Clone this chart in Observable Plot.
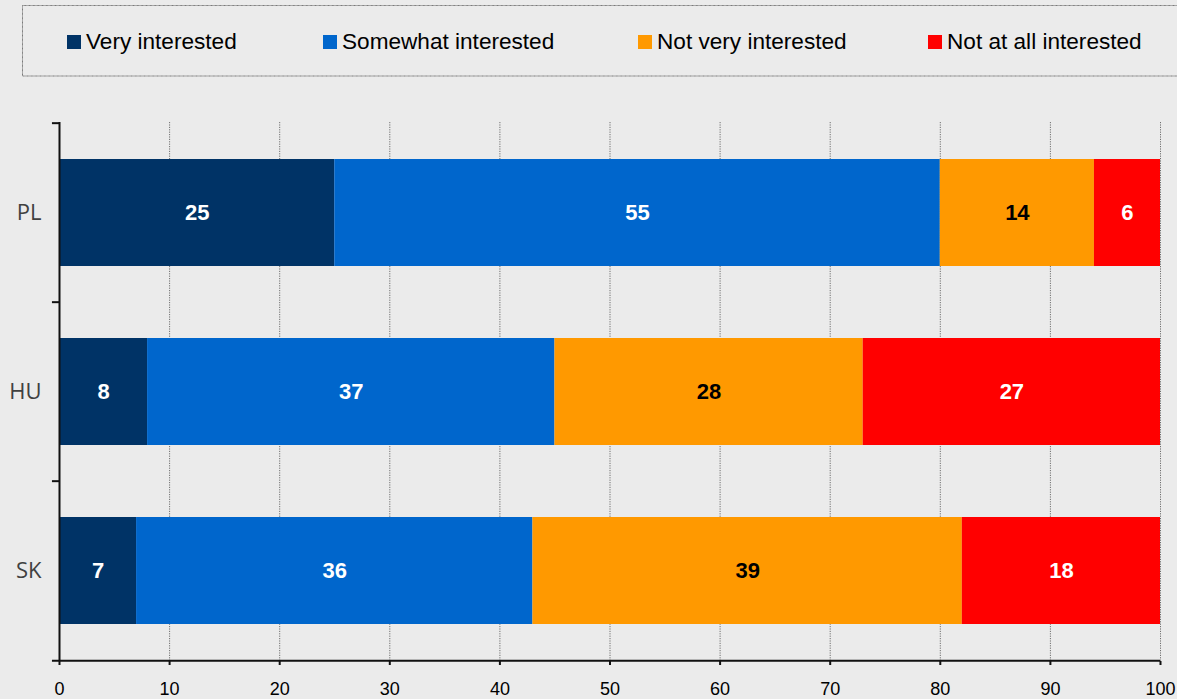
<!DOCTYPE html>
<html><head><meta charset="utf-8">
<script src="https://cdn.jsdelivr.net/npm/d3@7"></script>
<script src="https://cdn.jsdelivr.net/npm/@observablehq/plot@0.6"></script>
<style>
body{margin:0;background:#ebebeb;width:1177px;height:699px;overflow:hidden;font-family:"Liberation Sans",Arial,sans-serif}
#legend svg, #chart svg{display:block}
</style></head>
<body>
<div id="legend"></div>
<div id="chart"></div>
<script>
const countries = ["PL", "HU", "SK"];
const categories = ["Very interested", "Somewhat interested", "Not very interested", "Not at all interested"];
const colors = ["#003366", "#0066CC", "#FF9900", "#FF0000"];
const labelColors = ["#ffffff", "#ffffff", "#000000", "#ffffff"];
const veryInterested = [25, 8, 7];
const somewhatInterested = [55, 37, 36];
const notVeryInterested = [14, 28, 39];
const notAtAllInterested = [6, 27, 18];
const xTicks = [0, 10, 20, 30, 40, 50, 60, 70, 80, 90, 100];

const series = [veryInterested, somewhatInterested, notVeryInterested, notAtAllInterested];
const rows = [];
categories.forEach((cat, ci) => countries.forEach((c, i) => rows.push({country: c, category: cat, value: series[ci][i], ci})));

// legend (separate SVG above the chart)
const legendLeft = [67, 323, 638, 928];
const lg = d3.select("#legend").append("svg").attr("width", 1177).attr("height", 85);
lg.append("rect").attr("x", 22.5).attr("y", 5.5).attr("width", 1170).attr("height", 70.5)
  .attr("fill", "none").attr("stroke", "#7a7a7a").attr("stroke-width", 1).attr("stroke-dasharray", "1,0.3");
const items = lg.selectAll("g.item").data(categories).join("g").attr("class", "item")
  .attr("transform", (d, i) => `translate(${legendLeft[i]},0)`);
items.append("rect").attr("x", 0).attr("y", 35).attr("width", 14).attr("height", 14).attr("fill", (d, i) => colors[i]);
items.append("text").attr("x", 19).attr("y", 49).attr("font-size", 22.6)
  .attr("font-family", "Liberation Sans, Arial, sans-serif").attr("fill", "#000").text(d => d);

const W = 1177, H = 614, mT = 37, mB = 38, mL = 59, mR = 17;
const step = (H - mT - mB) / countries.length;

const plot = Plot.plot({
  width: W, height: H,
  marginTop: mT, marginBottom: mB, marginLeft: mL, marginRight: mR,
  style: {background: "#ebebeb", fontFamily: "Liberation Sans, Arial, sans-serif", overflow: "visible"},
  x: {domain: [0, 100], ticks: xTicks},
  y: {domain: countries, paddingInner: 0.4, paddingOuter: 0.2},
  color: {domain: categories, range: colors},
  marks: [
    Plot.gridX(xTicks.filter(t => t > 0), {stroke: "#6f6f6f", strokeOpacity: 1, strokeDasharray: "1.2,1.2", strokeWidth: 1}),
    Plot.barX(rows, Plot.stackX({x: "value", y: "country", fill: "category", order: null})),
    Plot.text(rows, Plot.stackX({x: "value", y: "country", z: "category", order: null, text: d => String(d.value),
      fill: d => labelColors[d.ci], fontWeight: "bold", fontSize: 22, fontFamily: "Liberation Sans, Arial, sans-serif"})),
    Plot.ruleX([0], {stroke: "#111", strokeWidth: 2}),
    Plot.ruleY(countries, {y: d => d, x1: -0.64, x2: 0, dy: -step / 2, stroke: "#111", strokeWidth: 2}),
    Plot.ruleY(countries.slice(-1), {y: d => d, x1: -0.64, x2: 100, dy: step / 2, stroke: "#111", strokeWidth: 2}),
    Plot.axisX({ticks: xTicks, tickSize: 4, tickPadding: 17, fontSize: 18, fill: "#000", stroke: "#111", strokeWidth: 2, label: null, tickFormat: d => String(d)}),
    Plot.axisY({tickSize: 0, tickPadding: 18, fontSize: 22, fontFamily: "Open Sans, sans-serif", fill: "#404040", label: null})
  ]
});
document.getElementById("chart").appendChild(plot);
</script>
</body></html>
